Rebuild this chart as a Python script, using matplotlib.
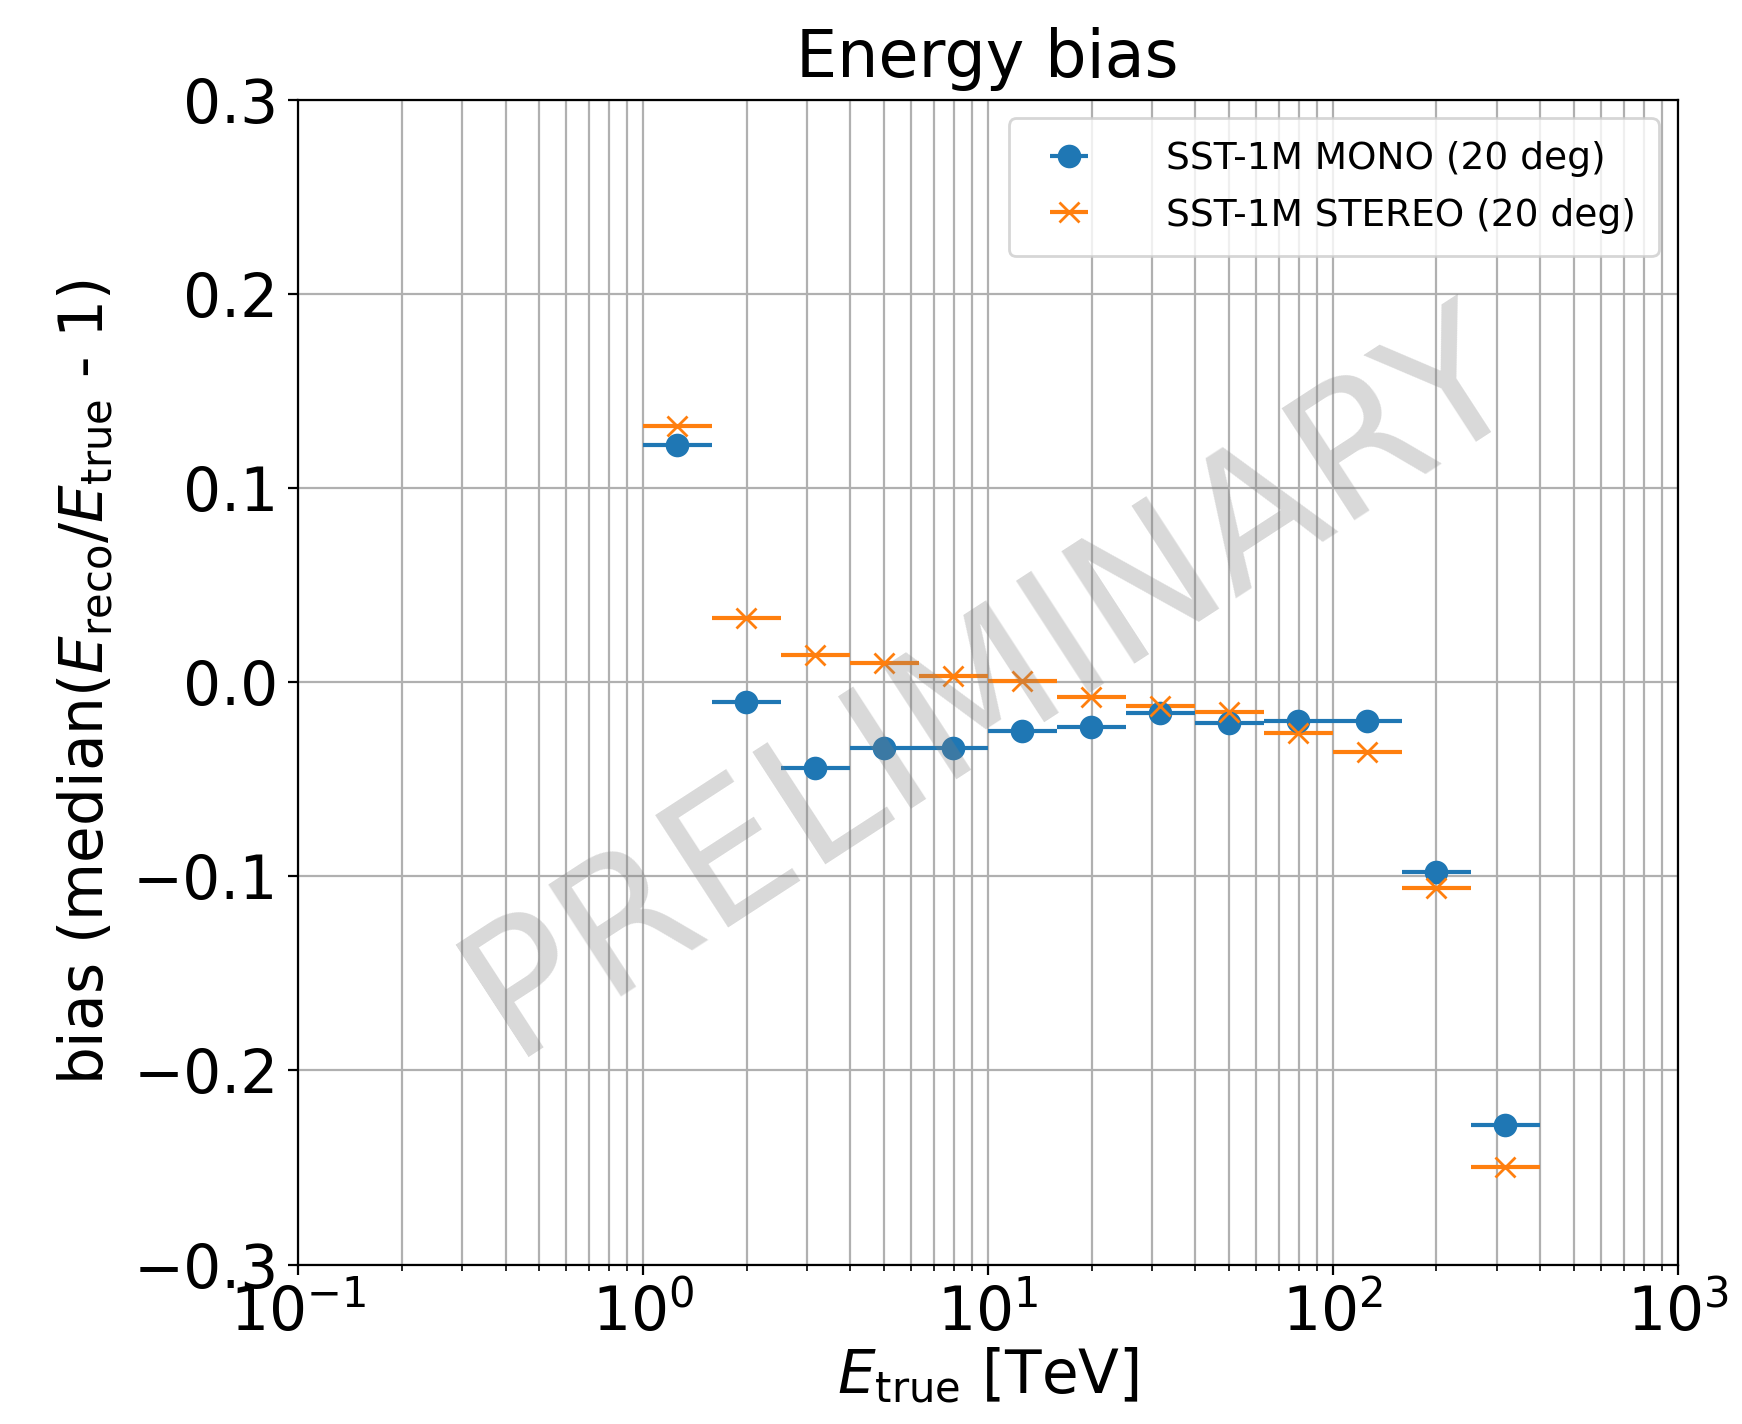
import numpy as np
import matplotlib
matplotlib.use("Agg")
import matplotlib.pyplot as plt

# energy bin edges [TeV]
bin_edges = [1.0, 1.585, 2.512, 3.981, 6.310, 10.0, 15.85, 25.12, 39.81, 63.10, 100.0, 158.5, 251.2, 398.1]

# median bias per bin
bias_mono = [0.122, -0.010, -0.044, -0.034, -0.034, -0.025, -0.023, -0.016, -0.021, -0.020, -0.020, -0.098, -0.228]
bias_stereo = [0.132, 0.033, 0.014, 0.010, 0.003, 0.0005, -0.0075, -0.0125, -0.0155, -0.026, -0.036, -0.106, -0.250]

label_mono = "SST-1M MONO (20 deg)"
label_stereo = "SST-1M STEREO (20 deg)"

# bin centres and half-widths
edges = np.array(bin_edges)
centers = np.sqrt(edges[:-1] * edges[1:])
xerr = [centers - edges[:-1], edges[1:] - centers]

fig = plt.figure(figsize=(8.71, 7.12), dpi=200)
ax = fig.add_axes([0.171, 0.112, 0.792, 0.818])

ax.errorbar(centers, bias_mono, xerr=xerr, fmt="o", color="tab:blue",
            markersize=7.5, elinewidth=1.5, label=label_mono)
ax.errorbar(centers, bias_stereo, xerr=xerr, fmt="x", color="tab:orange",
            markersize=7.5, elinewidth=1.5, label=label_stereo)

ax.set_xscale("log")
ax.set_xlim(0.1, 1000)
ax.set_ylim(-0.3, 0.3)
ax.set_yticks([-0.3, -0.2, -0.1, 0.0, 0.1, 0.2, 0.3])
ax.grid(True, which="both", color="#b0b0b0", linewidth=0.8)
ax.tick_params(labelsize=21.5)

ax.set_title("Energy bias", fontsize=23.5, pad=8)
ax.set_xlabel(r"$E_{\rm true}$ [TeV]", fontsize=21.5, labelpad=1)
ax.set_ylabel(r"bias (median($E_{\rm reco}/E_{\rm true}$ - 1)", fontsize=21.5, labelpad=6)

ax.legend(loc="upper right", fontsize=13.5, borderpad=0.6, handletextpad=1.6,
          labelspacing=0.55)

# watermark
ax.text(0.503, 0.499, "PRELIMINARY", transform=ax.transAxes, fontsize=66,
        color="gray", alpha=0.3, rotation=33, ha="center", va="center", zorder=10)

plt.savefig("out.png", dpi=200)
